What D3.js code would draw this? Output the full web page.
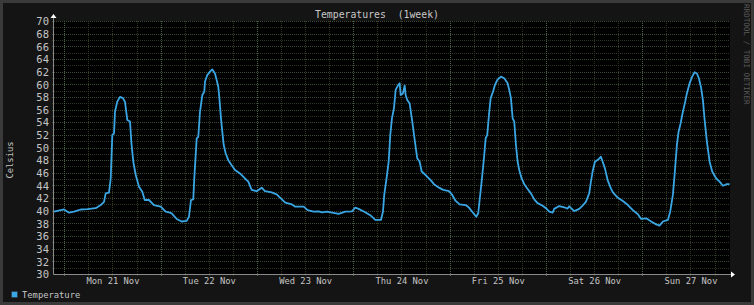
<!DOCTYPE html>
<html><head><meta charset="utf-8">
<script src="https://cdn.jsdelivr.net/npm/d3@7"></script>
<style>html,body{margin:0;padding:0;background:#141414;}svg{display:block;}</style>
</head><body>
<script>
// hours since Mon 21 Nov 00:00
const hours = [-2.57,-0.07,1.17,2.42,4.09,5.73,7.82,9.07,9.89,10.31,11.13,11.56,11.96,12.38,12.63,13.2,13.87,14.62,15.12,15.69,16.37,16.69,17.19,17.79,18.61,19.43,20.03,21.1,22.34,24.01,25.26,
26.08,26.75,28.0,29.24,30.49,31.06,31.56,32.13,32.38,32.98,33.38,33.8,34.38,34.87,35.05,35.62,36.29,36.87,37.54,37.96,38.36,38.61,39.03,39.36,39.71,40.2,40.85,41.7,42.52,43.77,45.01,45.84,46.68,47.93,49.17,49.99,51.66,52.91,
53.81,55.05,56.72,57.54,59.64,60.63,62.13,63.37,64.19,65.44,68.35,70.0,71.67,72.49,73.33,74.73,76.22,77.47,78.89,79.39,79.71,80.39,80.81,81.21,81.63,82.13,82.55,83.2,83.55,83.8,84.37,84.8,85.04,85.44,86.04,86.69,87.36,87.93,88.53,89.03,90.02,91.27,92.09,93.34,94.41,95.83,96.65,97.5,98.49,99.99,100.81,101.63,102.63,103.12,103.47,103.97,104.55,104.97,105.37,105.79,106.22,106.79,107.29,107.86,108.46,108.78,109.6,110.45,110.85,111.27,111.7,112.1,112.52,112.94,113.34,113.94,114.59,115.43,116.25,117.08,117.92,119.17,119.99,120.81,121.66,122.06,123.3,124.55,125.39,125.79,127.04,128.29,129.13,129.95,130.78,131.2,131.62,132.2,133.02,133.7,134.12,134.69,135.36,136.18,136.67,137.92,139.16,140.41,141.65,142.9,143.72,144.97,146.21,147.46,148.3,149.13,150.37,150.95,151.62,152.04,152.62,153.04,153.54,154.11,154.69,155.11,155.78,156.43,157.03,157.6,158.1,158.68,159.1,159.53,160.1,160.77,161.42,162.41,163.26,164.08,165.08,165.75];
const celsius = [39.85,40.2,39.7,39.85,40.2,40.25,40.4,40.9,41.4,42.75,42.85,45.1,52.0,52.2,55.7,57.25,58.0,57.8,57.2,54.35,54.1,50.9,47.75,45.65,43.8,43.0,41.7,41.7,40.9,40.65,39.85,
39.75,39.6,38.7,38.3,38.4,39.05,41.7,41.8,45.1,51.45,51.7,55.65,58.3,58.8,60.4,61.45,62.0,62.35,61.7,60.65,59.6,58.0,54.6,52.5,50.4,49.1,48.0,47.2,46.45,45.9,45.1,44.6,43.3,43.1,43.65,43.1,42.9,42.6,
42.05,41.3,41.0,40.65,40.65,40.1,39.85,39.9,39.75,39.85,39.5,39.85,39.9,40.5,40.3,39.85,39.3,38.55,38.55,39.85,42.5,45.65,47.75,52.0,54.6,56.2,59.1,59.9,60.15,58.3,58.55,59.8,58.3,57.5,56.95,54.1,50.9,48.3,47.75,46.2,45.65,44.85,44.2,43.65,43.3,43.1,42.5,41.55,41.0,40.9,40.5,39.85,39.05,39.6,41.7,44.6,48.3,51.45,52.0,55.1,57.8,58.8,59.9,60.65,61.05,61.2,60.95,60.15,59.1,57.8,54.6,54.1,50.4,47.75,46.45,45.1,44.2,43.45,42.75,41.8,41.2,40.8,40.4,39.85,39.7,40.3,40.75,40.55,40.35,40.7,39.95,40.3,40.8,41.4,42.75,44.6,46.2,47.75,48.1,48.55,47.75,46.7,44.85,43.55,42.9,42.05,41.55,40.9,40.1,39.45,38.7,38.8,38.3,37.85,37.65,38.3,38.55,39.85,42.5,45.65,50.4,52.5,53.8,55.65,57.25,58.55,60.15,61.2,61.9,61.7,60.95,59.35,57.5,54.35,50.9,47.75,46.2,45.1,44.6,43.95,44.2,44.2];
const dayLabels = ["Mon 21 Nov","Tue 22 Nov","Wed 23 Nov","Thu 24 Nov","Fri 25 Nov","Sat 26 Nov","Sun 27 Nov"];
const yTickLabels = [30,32,34,36,38,40,42,44,46,48,50,52,54,56,58,60,62,64,66,68,70];
const title = "Temperatures  (1week)";
const yTitle = "Celsius";
const legendLabel = "Temperature";
const watermark = "RRDTOOL / TOBI OETIKER";

const W = 754, H = 305;
const L = 54, R = 730, T = 21, B = 274;
const x = d3.scaleLinear().domain([-2.57, 165.85]).range([L, R]);
const y = d3.scaleLinear().domain([30, 70]).range([B, T]);
const font = "'DejaVu Sans Mono', monospace";
const lineColor = "#3aa6e4";

const svg = d3.select("body").append("svg").attr("width", W).attr("height", H);
svg.append("rect").attr("x",1.5).attr("y",1.5).attr("width",W-3).attr("height",H-3)
  .attr("fill","#141414").attr("stroke","#3a3a3a").attr("stroke-width",3);
svg.append("rect").attr("x",L).attr("y",T).attr("width",R-L).attr("height",B-T).attr("fill","#000");

const px = v => Math.round(v) + 0.5;
// minor vertical grid (6h)
const minorH = d3.range(-0, 166, 6).filter(h => h % 24 !== 0);
svg.append("g").selectAll("line").data(minorH).join("line")
  .attr("x1", d => px(x(d))).attr("x2", d => px(x(d))).attr("y1", T).attr("y2", B + 2)
  .attr("stroke", "#2f351b").attr("stroke-dasharray", "1,1");
// horizontal grid every 1
svg.append("g").selectAll("line").data(d3.range(31, 71, 1)).join("line")
  .attr("x1", L - 2).attr("x2", R).attr("y1", d => px(y(d))).attr("y2", d => px(y(d)))
  .attr("stroke", d => d % 2 === 0 ? "#3a4b33" : "#2b3523").attr("stroke-dasharray", "1,1");
// major vertical grid (midnight)
const majorH = d3.range(0, 166, 24);
svg.append("g").selectAll("line").data(majorH).join("line")
  .attr("x1", d => px(x(d))).attr("x2", d => px(x(d))).attr("y1", T).attr("y2", B + 3)
  .attr("stroke", "#4a6646").attr("stroke-dasharray", "1,1");

// axes lines
svg.append("line").attr("x1", L - 0.5).attr("x2", R + 2).attr("y1", B + 0.5).attr("y2", B + 0.5).attr("stroke", "#8a8a8a");
svg.append("line").attr("x1", L - 0.5).attr("x2", L - 0.5).attr("y1", T - 3).attr("y2", B + 0.5).attr("stroke", "#8a8a8a");
// arrows
svg.append("path").attr("d", `M${L-3.5},${T-3} L${L+2.5},${T-3} L${L-0.5},${T-7} Z`).attr("fill", "#ffffff");
svg.append("path").attr("d", `M${R+1},${B-2.5} L${R+1},${B+3.5} L${R+5},${B+0.5} Z`).attr("fill", "#ffffff");

// y tick labels
const yAxis = d3.axisLeft(y).tickValues(yTickLabels).tickSize(0).tickPadding(0).tickFormat(d3.format("d"));
const ya = svg.append("g").attr("transform", `translate(${L-5},0)`).call(yAxis);
ya.select(".domain").remove();
ya.selectAll("text").attr("font-family", font).attr("font-size", 10.5).attr("fill", "#c4c4c4").attr("dy", "0.36em");

// x labels
const xAxis = d3.axisBottom(x).tickValues(dayLabels.map((d, i) => 12 + 24 * i)).tickSize(0).tickPadding(0)
  .tickFormat((d, i) => dayLabels[i]);
const xa = svg.append("g").attr("transform", `translate(0,${B + 4})`).call(xAxis);
xa.select(".domain").remove();
xa.selectAll("text").attr("font-family", font).attr("font-size", 8.8).attr("fill", "#c4c4c4").attr("dy", "0.71em");

// data line
svg.append("path").datum(hours.map((h, i) => [h, celsius[i]]))
  .attr("fill", "none").attr("stroke", lineColor).attr("stroke-width", 1.8).attr("stroke-linejoin", "round")
  .attr("d", d3.line().x(d => x(d[0])).y(d => y(d[1])));

// title
svg.append("text").attr("x", 377).attr("y", 18).attr("text-anchor", "middle").attr("font-family", font)
  .attr("font-size", 9.8).attr("fill", "#c8c8c8").attr("xml:space", "preserve").style("white-space", "pre").text(title);
// y title
svg.append("text").attr("transform", "translate(13,160) rotate(-90)").attr("text-anchor", "middle")
  .attr("font-family", font).attr("font-size", 8.8).attr("fill", "#c4c4c4").text(yTitle);
// watermark
svg.append("text").attr("transform", "translate(744,4) rotate(90)").attr("text-anchor", "start")
  .attr("font-family", font).attr("font-size", 7.6).attr("fill", "#5a5a5a").attr("xml:space", "preserve").style("white-space","pre").text(watermark);
// legend
svg.append("rect").attr("x", 11.5).attr("y", 291.5).attr("width", 6).attr("height", 6).attr("fill", lineColor).attr("stroke", "#2a2a2a").attr("stroke-width", 0.5);
svg.append("text").attr("x", 22).attr("y", 298).attr("font-family", font).attr("font-size", 8.8).attr("fill", "#c4c4c4").text(legendLabel);
</script>
</body></html>
